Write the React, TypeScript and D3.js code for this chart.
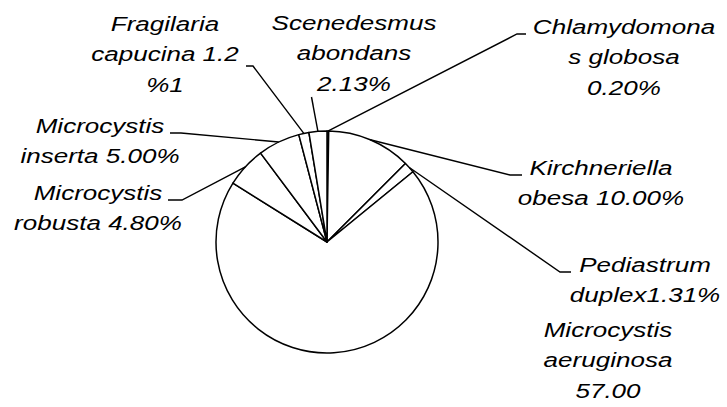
import * as d3 from "d3";
import React, { useEffect, useRef } from "react";

const species = [
  "Chlamydomonas globosa",
  "Kirchneriella obesa",
  "Pediastrum duplex",
  "Microcystis aeruginosa",
  "Microcystis robusta",
  "Microcystis inserta",
  "Fragilaria capucina",
  "Scenedesmus abondans",
];
const values = [0.2, 10.0, 1.31, 57.0, 4.8, 5.0, 1.21, 2.13];
const labelLines = [
  ["Chlamydomona", "s globosa", "0.20%"],
  ["Kirchneriella", "obesa 10.00%"],
  ["Pediastrum", "duplex1.31%"],
  ["Microcystis", "aeruginosa", "57.00"],
  ["Microcystis", "robusta 4.80%"],
  ["Microcystis", "inserta 5.00%"],
  ["Fragilaria", "capucina 1.2", "%1"],
  ["Scenedesmus", "abondans", "2.13%"],
];

// label layout: text center x, first baseline y, leader elbow [x,y] and end [x,y] (null = no leader)
const layout: { cx: number; y: number; elbow: [number, number] | null; end: [number, number] | null }[] = [
  { cx: 624, y: 34, elbow: [517, 34], end: [526, 34] },
  { cx: 601, y: 175, elbow: [510, 175], end: [522, 175] },
  { cx: 645, y: 272, elbow: [560, 272], end: [571, 272] },
  { cx: 608, y: 337, elbow: null, end: null },
  { cx: 98, y: 200, elbow: [182, 200], end: [168, 200] },
  { cx: 100, y: 133, elbow: [181, 133], end: [170, 133] },
  { cx: 165, y: 60 - 29, elbow: [253, 66], end: [246, 66] },
  { cx: 354, y: 30, elbow: [311.5, 97], end: null },
];

const W = 727;
const H = 407;
const CX = 327;
const CY = 242;
const R = 111;

const PieChart = () => {
  const ref = useRef<SVGSVGElement>(null);

  useEffect(() => {
    const svg = d3.select(ref.current);
    svg.selectAll("*").remove();

    const data = species.map((s, i) => ({ name: s, value: values[i], i }));
    const pie = d3
      .pie<{ name: string; value: number; i: number }>()
      .value((d) => d.value)
      .sort(null)
      .startAngle(0)
      .endAngle(2 * Math.PI);
    const arcs = pie(data);
    const arc = d3.arc<d3.PieArcDatum<any>>().innerRadius(0).outerRadius(R);

    const g = svg.append("g").attr("transform", `translate(${CX},${CY})`);
    g.selectAll("path")
      .data(arcs)
      .enter()
      .append("path")
      .attr("d", arc as any)
      .attr("fill", "#fff")
      .attr("stroke", "#000")
      .attr("stroke-width", 1.5)
      .attr("stroke-linejoin", "round");

    // leader lines
    arcs.forEach((a, i) => {
      const L = layout[i];
      if (!L.elbow) return;
      const mid = (a.startAngle + a.endAngle) / 2;
      const p: [number, number] = [CX + R * Math.sin(mid), CY - R * Math.cos(mid)];
      const pts = [p, L.elbow];
      if (L.end) pts.push(L.end);
      svg
        .append("path")
        .attr("d", d3.line()(pts))
        .attr("fill", "none")
        .attr("stroke", "#000")
        .attr("stroke-width", 1.4);
    });

    // labels
    labelLines.forEach((lines, i) => {
      const L = layout[i];
      const t = svg
        .append("g")
        .attr("transform", `translate(${L.cx},0) scale(1.24,1)`);
      lines.forEach((ln, k) => {
        t.append("text")
          .attr("x", 0)
          .attr("y", L.y + k * 30.3)
          .attr("text-anchor", "middle")
          .attr("font-family", "Liberation Sans, Arial, sans-serif")
          .attr("font-style", "italic")
          .attr("font-size", 21)
          .attr("fill", "#000")
          .text(ln);
      });
    });
  }, []);

  return (
    <svg
      ref={ref}
      width={W}
      height={H}
      style={{ position: "absolute", left: 0, top: 0, background: "#fff" }}
    />
  );
};

export default function App() {
  return <PieChart />;
}
